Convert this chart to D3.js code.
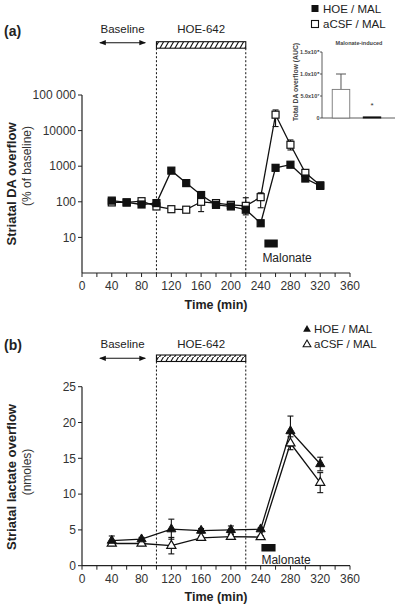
<!DOCTYPE html>
<html><head><meta charset="utf-8">
<script src="https://cdn.jsdelivr.net/npm/d3@7"></script>
<style>body{margin:0;background:#fff}svg{display:block}text{font-family:"Liberation Sans",Arial,sans-serif;fill:#222}</style>
</head><body><svg id="c" width="400" height="609"></svg>
<script>
// ---- Data ----
const timesA = [40,60,80,100,120,140,160,180,200,220,240,260,280,300,320];
const hoeA   = [108,96,84,92,750,335,155,82,74,60,25,900,1100,450,280];
const acsfA  = [96,96,104,74,62,60,100,92,82,77,135,28000,4000,650,290];
const acsfALo = [null,null,null,null,null,null,53,null,null,43,68,13000,2860,null,null];
const acsfAHi = [null,null,null,null,null,null,179,null,null,130,179,38000,5460,null,null];
const yTicksA = [10,100,1000,10000,100000];
const yTickLabelsA = ["10","100","1000","10000","100 000"];

const timesB = [40,80,120,160,200,240,280,320];
const hoeB    = [3.5,3.7,5.1,4.9,5.0,5.1,18.8,14.2];
const hoeBErr = [0.65,0.25,1.4,0.3,0.55,0.2,2.1,0.95];
const acsfB   = [3.1,3.1,2.8,3.9,4.05,4.0,17.1,11.6];
const acsfBErr= [0.3,0.3,1.15,0.2,0.3,0.2,0.9,1.4];
const yTicksB = [0,5,10,15,20,25];

const xTicks = [0,20,40,60,80,100,120,140,160,180,200,220,240,260,280,300,320,340,360];
const xLabels = [0,40,80,120,160,200,240,280,320,360];

const hoePeriod = [100,220];
const baselineArrow = [24,85];
const malonateA = [245,263];
const malonateB = [241,260];

const insetCats = ["aCSF / MAL","HOE / MAL"];
const insetVals = [6.5e7,2.5e6];
const insetErr  = [3.5e7,0];
const insetTicks = [0,5e7,1e8,1.5e8];
const insetTickLabels = ["0","5.0x10⁷","1.0x10⁸","1.5x10⁸"];

// ---- Drawing ----
const svg = d3.select("#c");
const defs = svg.append("defs");
const pat = defs.append("pattern").attr("id","hatch").attr("patternUnits","userSpaceOnUse")
  .attr("width",5).attr("height",7);
pat.append("path").attr("d","M-1,8 L4,-1 M4,8 L9,-1").attr("stroke","#111").attr("stroke-width",1.1);
defs.append("marker").attr("id","arr").attr("viewBox","0 0 10 10").attr("refX",9).attr("refY",5)
  .attr("markerWidth",6).attr("markerHeight",6).attr("orient","auto-start-reverse")
  .append("path").attr("d","M0,1 L10,5 L0,9 z").attr("fill","#111");

const x = d3.scaleLinear().domain([0,360]).range([82,350]);

function xAxis(g, y0, labelY, titleY){
  g.append("line").attr("x1",x(0)).attr("x2",x(360)).attr("y1",y0).attr("y2",y0).attr("stroke","#222").attr("stroke-width",1.2);
  g.selectAll(".xt").data(xTicks).join("line").attr("x1",d=>x(d)).attr("x2",d=>x(d))
    .attr("y1",y0).attr("y2",y0+4).attr("stroke","#222").attr("stroke-width",1);
  g.selectAll(".xl").data(xLabels).join("text").attr("x",d=>x(d)).attr("y",labelY)
    .attr("text-anchor","middle").attr("font-size",12).style("fill","#333").text(d=>d);
  g.append("text").attr("x",x(180)).attr("y",titleY).attr("text-anchor","middle")
    .attr("font-size",12.5).attr("font-weight","bold").text("Time (min)");
}
function annotations(g, textY, arrowY, hatchTop, axisY){
  g.append("text").attr("x",(x(baselineArrow[0])+x(baselineArrow[1]))/2).attr("y",textY)
    .attr("text-anchor","middle").attr("font-size",11.5).text("Baseline");
  g.append("line").attr("x1",x(baselineArrow[0])).attr("x2",x(baselineArrow[1]))
    .attr("y1",arrowY).attr("y2",arrowY).attr("stroke","#111").attr("stroke-width",1.1)
    .attr("marker-start","url(#arr)").attr("marker-end","url(#arr)");
  g.append("text").attr("x",(x(hoePeriod[0])+x(hoePeriod[1]))/2).attr("y",textY)
    .attr("text-anchor","middle").attr("font-size",11.5).text("HOE-642");
  g.append("rect").attr("x",x(hoePeriod[0])).attr("y",hatchTop).attr("width",x(hoePeriod[1])-x(hoePeriod[0]))
    .attr("height",6.5).attr("fill","url(#hatch)").attr("stroke","#111").attr("stroke-width",1.1);
  hoePeriod.forEach(t=>g.append("line").attr("x1",x(t)).attr("x2",x(t)).attr("y1",hatchTop+6.5).attr("y2",axisY)
    .attr("stroke","#111").attr("stroke-width",1).attr("stroke-dasharray","2,2"));
}
function errBar(g, xp, y1, y2){
  g.append("line").attr("x1",xp).attr("x2",xp).attr("y1",y1).attr("y2",y2).attr("stroke","#111").attr("stroke-width",1.1);
  [y1,y2].forEach(yy=>g.append("line").attr("x1",xp-3).attr("x2",xp+3).attr("y1",yy).attr("y2",yy).attr("stroke","#111").attr("stroke-width",1.1));
}

// ---------- Panel (a) ----------
const ga = svg.append("g");
const ya = d3.scaleLog().domain([1,100000]).range([273,95]);
ga.append("text").attr("x",4).attr("y",36).attr("font-size",14).attr("font-weight","bold").text("(a)");
annotations(ga, 33, 42.7, 41.7, 273);
ga.append("line").attr("x1",82).attr("x2",82).attr("y1",ya(100000)).attr("y2",273).attr("stroke","#222").attr("stroke-width",1.2);
ga.selectAll(".yt").data(yTicksA).join("line").attr("x1",78).attr("x2",82).attr("y1",d=>ya(d)).attr("y2",d=>ya(d)).attr("stroke","#222");
ga.selectAll(".yl").data(yTicksA).join("text").attr("x",76).attr("y",d=>ya(d)+4.2).attr("text-anchor","end")
  .attr("font-size",12).style("fill","#333").text((d,i)=>yTickLabelsA[i]);
xAxis(ga, 273, 290, 309);
ga.append("text").attr("transform","translate(16,184) rotate(-90)").attr("text-anchor","middle")
  .attr("font-size",13).attr("font-weight","bold").text("Striatal DA overflow");
ga.append("text").attr("transform","translate(31,166) rotate(-90)").attr("text-anchor","middle")
  .attr("font-size",12).style("fill","#333").text("(% of baseline)");
// malonate
ga.append("rect").attr("x",x(malonateA[0])).attr("width",x(malonateA[1])-x(malonateA[0])).attr("y",239.5).attr("height",8).attr("fill","#111");
ga.append("text").attr("x",x(malonateA[0])-2).attr("y",262).attr("font-size",12).text("Malonate");
// error bars
timesA.forEach((t,i)=>{ if(acsfALo[i]!=null) errBar(ga, x(t), ya(acsfAHi[i]), ya(acsfALo[i])); });
const lineA = d3.line().x((d,i)=>x(timesA[i])).y(d=>ya(d));
ga.append("path").attr("d",lineA(acsfA)).attr("fill","none").attr("stroke","#111").attr("stroke-width",1.3);
ga.append("path").attr("d",lineA(hoeA)).attr("fill","none").attr("stroke","#111").attr("stroke-width",1.3);
const sq=7;
ga.selectAll(".oa").data(acsfA).join("rect").attr("x",(d,i)=>x(timesA[i])-sq/2).attr("y",d=>ya(d)-sq/2)
  .attr("width",sq).attr("height",sq).attr("fill","#fff").attr("stroke","#111").attr("stroke-width",1.2);
ga.selectAll(".fa").data(hoeA).join("rect").attr("x",(d,i)=>x(timesA[i])-sq/2).attr("y",d=>ya(d)-sq/2)
  .attr("width",sq).attr("height",sq).attr("fill","#111").attr("stroke","#111").attr("stroke-width",1.2);
// legend a
ga.append("rect").attr("x",311.5).attr("y",5).attr("width",7).attr("height",7).attr("fill","#111");
ga.append("text").attr("x",323).attr("y",12.5).attr("font-size",11.5).text("HOE / MAL");
ga.append("rect").attr("x",311.5).attr("y",20.5).attr("width",7).attr("height",7).attr("fill","#fff").attr("stroke","#111").attr("stroke-width",1.1);
ga.append("text").attr("x",323).attr("y",28).attr("font-size",11.5).text("aCSF / MAL");

// inset
const gi = svg.append("g");
const yi = d3.scaleLinear().domain([0,1.5e8]).range([118,52]);
const xi = d3.scaleBand().domain(insetCats).range([322,391]).paddingInner(0.435).paddingOuter(0.33);
gi.append("line").attr("x1",322).attr("x2",322).attr("y1",yi(1.5e8)).attr("y2",yi(0)).attr("stroke","#333").attr("stroke-width",0.8);
gi.append("line").attr("x1",322).attr("x2",395).attr("y1",yi(0)).attr("y2",yi(0)).attr("stroke","#333").attr("stroke-width",0.8);
gi.selectAll(".it").data(insetTicks).join("line").attr("x1",320).attr("x2",322).attr("y1",d=>yi(d)).attr("y2",d=>yi(d)).attr("stroke","#333").attr("stroke-width",0.8);
gi.selectAll(".il").data(insetTicks).join("text").attr("x",319.5).attr("y",d=>yi(d)+2).attr("text-anchor","end")
  .attr("font-size",5.5).attr("font-weight","bold").style("fill","#444").text((d,i)=>insetTickLabels[i]);
gi.append("text").attr("x",359).attr("y",44.5).attr("text-anchor","middle").attr("font-size",5.5).attr("font-weight","bold").style("fill","#444").text("Malonate-induced");
gi.append("text").attr("transform","translate(298,82) rotate(-90)").attr("text-anchor","middle")
  .attr("font-size",6.8).attr("font-weight","bold").style("fill","#444").text("Total DA overflow (AUC)");
insetCats.forEach((c,i)=>{
  if(insetErr[i]>0){
    const cx = xi(c)+xi.bandwidth()/2;
    gi.append("line").attr("x1",cx).attr("x2",cx).attr("y1",yi(insetVals[i])).attr("y2",yi(insetVals[i]+insetErr[i])).attr("stroke","#555").attr("stroke-width",1);
    gi.append("line").attr("x1",cx-5).attr("x2",cx+5).attr("y1",yi(insetVals[i]+insetErr[i])).attr("y2",yi(insetVals[i]+insetErr[i])).attr("stroke","#555").attr("stroke-width",1);
  }
});
gi.selectAll(".ib").data(insetVals).join("rect").attr("x",(d,i)=>xi(insetCats[i])).attr("width",xi.bandwidth())
  .attr("y",d=>yi(d)).attr("height",d=>yi(0)-yi(d))
  .attr("fill",(d,i)=>i===0?"#fff":"#111").attr("stroke",(d,i)=>i===0?"#777":"#111").attr("stroke-width",0.9);
gi.append("text").attr("x",xi("HOE / MAL")+xi.bandwidth()/2).attr("y",108).attr("text-anchor","middle").attr("font-size",8).style("fill","#333").text("*");

// ---------- Panel (b) ----------
const gb = svg.append("g");
const yb = d3.scaleLinear().domain([0,25]).range([565.7,386.7]);
gb.append("text").attr("x",4).attr("y",349.5).attr("font-size",14).attr("font-weight","bold").text("(b)");
annotations(gb, 348, 358.3, 355, 565.7);
gb.append("line").attr("x1",82).attr("x2",82).attr("y1",yb(25)).attr("y2",yb(0)).attr("stroke","#222").attr("stroke-width",1.2);
gb.selectAll(".yt").data(yTicksB).join("line").attr("x1",78).attr("x2",82).attr("y1",d=>yb(d)).attr("y2",d=>yb(d)).attr("stroke","#222");
gb.selectAll(".yl").data(yTicksB).join("text").attr("x",76).attr("y",d=>yb(d)+4.2).attr("text-anchor","end")
  .attr("font-size",12).style("fill","#333").text(d=>d);
xAxis(gb, 565.7, 582.5, 601);
gb.append("text").attr("transform","translate(16,477) rotate(-90)").attr("text-anchor","middle")
  .attr("font-size",13).attr("font-weight","bold").text("Striatal lactate overflow");
gb.append("text").attr("transform","translate(31,472) rotate(-90)").attr("text-anchor","middle")
  .attr("font-size",12).style("fill","#333").text("(nmoles)");
gb.append("rect").attr("x",x(malonateB[0])).attr("width",x(malonateB[1])-x(malonateB[0])).attr("y",544).attr("height",7.5).attr("fill","#111");
gb.append("text").attr("x",x(malonateB[0])).attr("y",563.5).attr("font-size",12).text("Malonate");
timesB.forEach((t,i)=>{
  errBar(gb, x(t), yb(hoeB[i]+hoeBErr[i]), yb(hoeB[i]-hoeBErr[i]));
  errBar(gb, x(t), yb(acsfB[i]+acsfBErr[i]), yb(acsfB[i]-acsfBErr[i]));
});
const lineB = d3.line().x((d,i)=>x(timesB[i])).y(d=>yb(d));
gb.append("path").attr("d",lineB(acsfB)).attr("fill","none").attr("stroke","#111").attr("stroke-width",1.3);
gb.append("path").attr("d",lineB(hoeB)).attr("fill","none").attr("stroke","#111").attr("stroke-width",1.3);
const tri = d3.symbol().type(d3.symbolTriangle).size(36);
gb.selectAll(".ob").data(acsfB).join("path").attr("d",tri).attr("transform",(d,i)=>`translate(${x(timesB[i])},${yb(d)})`)
  .attr("fill","#fff").attr("stroke","#111").attr("stroke-width",1.2);
gb.selectAll(".fb").data(hoeB).join("path").attr("d",tri).attr("transform",(d,i)=>`translate(${x(timesB[i])},${yb(d)})`)
  .attr("fill","#111").attr("stroke","#111").attr("stroke-width",1);
// legend b
const triL = d3.symbol().type(d3.symbolTriangle).size(26);
gb.append("path").attr("d",triL).attr("transform","translate(307,329.5)").attr("fill","#111");
gb.append("text").attr("x",314).attr("y",333).attr("font-size",11.5).text("HOE / MAL");
gb.append("path").attr("d",triL).attr("transform","translate(307,344.5)").attr("fill","#fff").attr("stroke","#111").attr("stroke-width",1.1);
gb.append("text").attr("x",314).attr("y",348).attr("font-size",11.5).text("aCSF / MAL");
</script></body></html>
